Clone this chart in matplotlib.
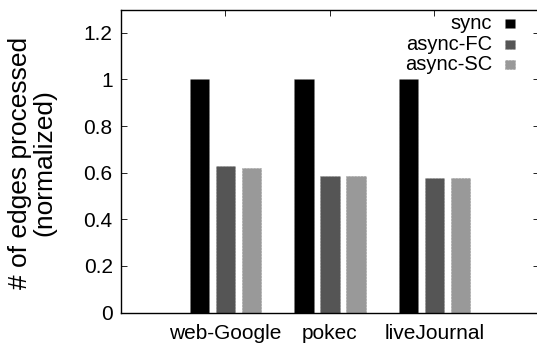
import matplotlib
matplotlib.use("Agg")
import matplotlib.pyplot as plt
from matplotlib.ticker import FuncFormatter
from matplotlib.patches import Rectangle
import numpy as np

graphs = ["web-Google", "pokec", "liveJournal"]
series = ["sync", "async-FC", "async-SC"]
sync = [1.0, 1.0, 1.0]
async_fc = [0.627, 0.585, 0.579]
async_sc = [0.622, 0.585, 0.579]
colors = ["#000000", "#555555", "#999999"]

plt.rcParams["font.family"] = ["Liberation Sans", "DejaVu Sans"]

W, H = 537, 343
fig = plt.figure(figsize=(W / 100, H / 100), dpi=100)
left, right, bottom, top = 121, 539, 312.5, 9.5
ax = fig.add_axes([left / W, 1 - bottom / H, (right - left) / W, (bottom - top) / H])

x = np.arange(len(graphs))
width = 0.186
for k, (vals, c) in enumerate(zip([sync, async_fc, async_sc], colors)):
    ax.bar(x + (k - 1) * 0.25, vals, width, color=c, edgecolor="#777777",
           linewidth=0.4, linestyle=":", zorder=3)

ax.set_xlim(-1, 3)
ax.set_ylim(0, 1.3)
ax.set_yticks([0, 0.2, 0.4, 0.6, 0.8, 1.0, 1.2])
ax.yaxis.set_major_formatter(FuncFormatter(lambda v, p: f"{v:g}"))
ax.set_xticks(x)
ax.set_xticklabels(graphs)
ax.set_axisbelow(True)
ax.tick_params(axis="both", direction="in", labelsize=15, length=4, width=0.6,
               top=True, right=True)
ax.tick_params(axis="x", pad=8.5)
ax.tick_params(axis="y", pad=6)
for s in ax.spines.values():
    s.set_linewidth(1.0)
    s.set_zorder(4)

# y label placed like gnuplot's (two lines, further left than matplotlib's default)
fig.text(32 / W, 1 - 163 / H, "# of edges processed\n(normalized)", rotation=90,
         ha="center", va="center", fontsize=19, linespacing=1.05,
         multialignment="center")

# gnuplot-style legend: right-aligned text followed by a small filled box
leg_y = [23.5, 44, 64.5]
for name, c, yy in zip(series, colors, leg_y):
    fig.text(492 / W, 1 - yy / H, name, ha="right", va="center", fontsize=14.5)
    fig.patches.append(Rectangle((505 / W, 1 - (yy + 4.5) / H), 10 / W, 9 / H,
                                 transform=fig.transFigure, facecolor=c,
                                 edgecolor="#777777", linewidth=0.4, linestyle=":"))

fig.savefig("out.png", dpi=100)
